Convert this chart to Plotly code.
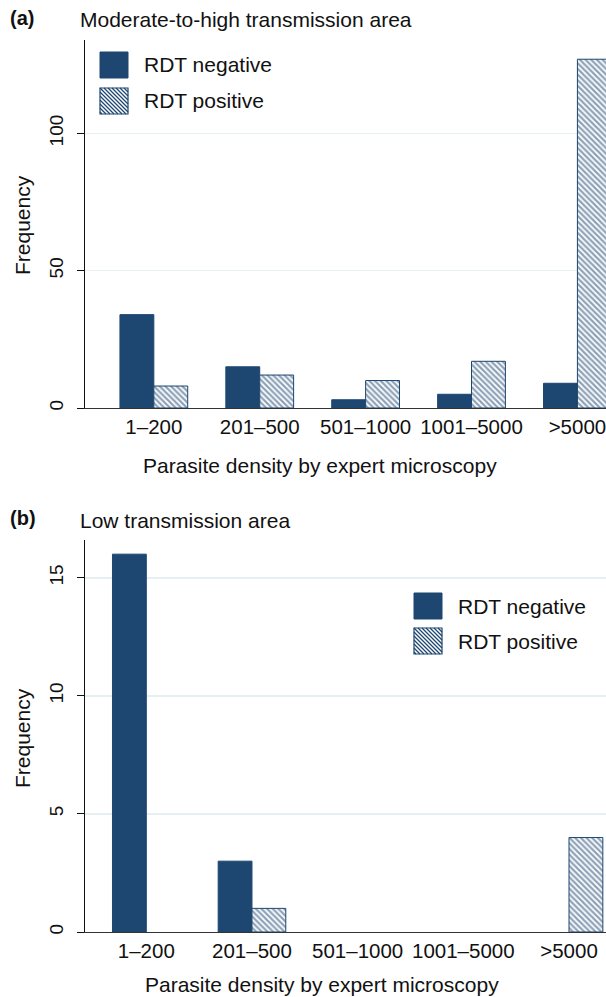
import plotly.graph_objects as go

categories = ["1–200", "201–500", "501–1000", "1001–5000", ">5000"]
a_negative = [34, 15, 3, 5, 9]
a_positive = [8, 12, 10, 17, 127]
b_negative = [16, 3, 0, 0, 0]
b_positive = [0, 1, 0, 0, 4]

a_ticks = [0, 50, 100]
b_ticks = [0, 5, 10, 15]
series_names = ["RDT negative", "RDT positive"]

NAVY = "#1d4670"
FONT = "Liberation Sans, Arial, Helvetica, sans-serif"
TXT = "#111111"
W, H = 606, 997


def px(y):
    return 1 - y / H


def nz(values):
    return [v if v else None for v in values]


fig = go.Figure()
pattern = dict(shape="\\", fgcolor=NAVY, bgcolor="white", size=4, solidity=0.55)

for xa, ya, neg, pos in [("x", "y", a_negative, a_positive), ("x2", "y2", b_negative, b_positive)]:
    fig.add_trace(go.Bar(x=categories, y=nz(neg), name=series_names[0],
                         marker=dict(color=NAVY, line=dict(color=NAVY, width=1)),
                         xaxis=xa, yaxis=ya, showlegend=False, hoverinfo="skip"))
    fig.add_trace(go.Bar(x=categories, y=nz(pos), name=series_names[1],
                         marker=dict(color="white", pattern=pattern, line=dict(color=NAVY, width=1)),
                         xaxis=xa, yaxis=ya, showlegend=False, hoverinfo="skip"))

xcommon = dict(type="category", showgrid=False, showline=True, linecolor="#333333", linewidth=1.2,
               ticks="", tickfont=dict(size=20.5, color=TXT), zeroline=False, automargin=False)
ycommon = dict(showgrid=True, gridcolor="#e6eff2", gridwidth=1.5, showline=True, linecolor=TXT,
               linewidth=1.2, ticks="outside", ticklen=7, tickcolor=TXT,
               tickfont=dict(size=19, color=TXT), tickangle=-90, zeroline=False,
               ticklabelstandoff=6, automargin=False)

fig.update_layout(
    width=W, height=H,
    margin=dict(l=0, r=0, t=0, b=0, autoexpand=False),
    paper_bgcolor="white", plot_bgcolor="white",
    font=dict(family=FONT, color=TXT),
    barmode="group", bargap=0.36, bargroupgap=0,
    xaxis=dict(xcommon, domain=[85 / W, 1], range=[-0.65, 4.27], anchor="y"),
    yaxis=dict(ycommon, domain=[px(408), px(40)], range=[0, 134], tickvals=a_ticks, anchor="x"),
    xaxis2=dict(xcommon, domain=[85 / W, 1], range=[-0.58, 4.35], anchor="y2"),
    yaxis2=dict(ycommon, domain=[px(932), px(540)], range=[0, 16.6], tickvals=b_ticks, anchor="x2"),
    showlegend=False,
)


def add_text(text, x, y, size=21, angle=0, xanchor="left"):
    fig.add_annotation(text=text, xref="paper", yref="paper", x=x / W, y=px(y),
                       xanchor=xanchor, yanchor="middle", showarrow=False, textangle=angle,
                       font=dict(size=size, color=TXT))


add_text("<b>(a)</b>", 8, 18, size=20)
add_text("Moderate-to-high transmission area", 78, 19)
add_text("<b>(b)</b>", 8, 518, size=20)
add_text("Low transmission area", 78, 520)
add_text("Frequency", 22, 225, angle=-90, xanchor="center")
add_text("Frequency", 22, 738, angle=-90, xanchor="center")
add_text("Parasite density by expert microscopy", 320, 465, xanchor="center")
add_text("Parasite density by expert microscopy", 322, 984, xanchor="center")


def legend_keys(x0, y_neg, y_pos, w=28, h=26):
    fig.add_shape(type="rect", xref="paper", yref="paper",
                  x0=x0 / W, x1=(x0 + w) / W, y0=px(y_neg + h), y1=px(y_neg),
                  fillcolor=NAVY, line=dict(color=NAVY, width=1))
    xa, xb, ya, yb = x0, x0 + w, y_pos, y_pos + h
    segs = []
    step = 4
    c = ya - xb
    while c <= yb - xa:
        s0 = max(xa, ya - c)
        s1 = min(xb, yb - c)
        if s1 > s0:
            segs.append(f"M{s0 / W:.5f},{px(s0 + c):.5f} L{s1 / W:.5f},{px(s1 + c):.5f}")
        c += step
    fig.add_shape(type="path", xref="paper", yref="paper", path=" ".join(segs),
                  line=dict(color=NAVY, width=1.3))
    fig.add_shape(type="rect", xref="paper", yref="paper",
                  x0=xa / W, x1=xb / W, y0=px(yb), y1=px(ya),
                  fillcolor="rgba(0,0,0,0)", line=dict(color=NAVY, width=1.2))
    add_text(series_names[0], x0 + 42, y_neg + h / 2)
    add_text(series_names[1], x0 + 42, y_pos + h / 2)


legend_keys(100, 52, 88)
legend_keys(414, 593, 628)

fig.write_html("out.html", config={"displayModeBar": False, "staticPlot": True},
               post_script="document.body.style.margin='0';document.body.style.padding='0';"
                           "document.documentElement.style.overflow='hidden';")
